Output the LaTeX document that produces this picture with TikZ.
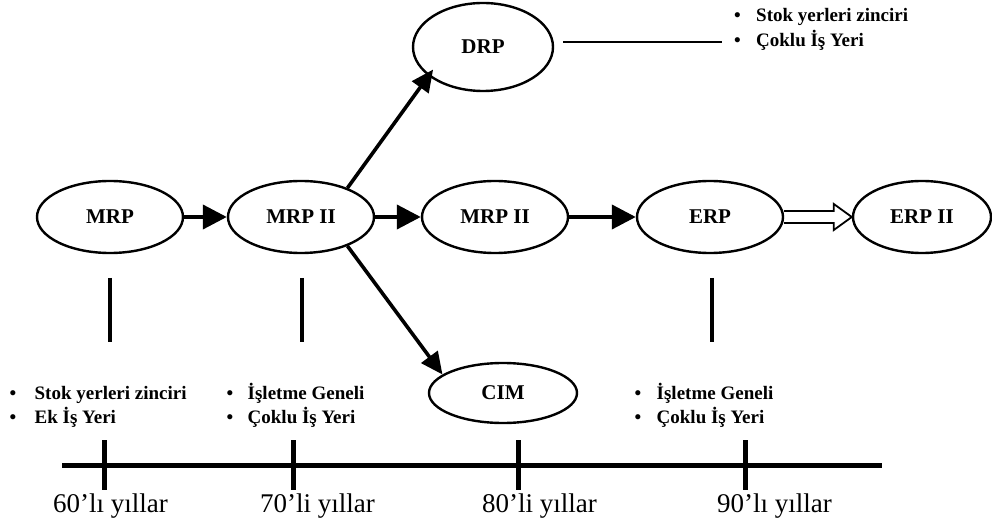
\documentclass[tikz,border=0pt]{standalone}
\usepackage{fontspec}
\setmainfont{Liberation Serif}
\usetikzlibrary{arrows.meta,calc,shapes.geometric}
% bullet followed by a fixed gap before the item text
\newcommand{\itembul}[1]{\makebox[#1][l]{\textbullet}}

\begin{document}
\begin{tikzpicture}[x=1pt,y=-1pt,
  stage/.style={draw, ellipse, line width=2.4pt, inner sep=0pt,
    minimum width=146pt, minimum height=72pt,
    font=\fontsize{21}{25}\selectfont\bfseries},
  flow/.style={line width=4pt, -{Triangle[length=24pt,width=24pt]}},
  branch/.style={line width=3.6pt, -{Triangle[length=22pt,width=20pt]}},
  stem/.style={line width=4pt},
  item/.style={anchor=base west, inner sep=0pt,
    font=\fontsize{19}{22}\selectfont\bfseries},
  year/.style={anchor=base west, inner sep=0pt,
    font=\fontsize{27}{31}\selectfont},
  axis/.style={line width=5pt},
]
\useasboundingbox (0,0) rectangle (992,526);
\fill[white] (0,0) rectangle (992,526);

% stages
\node[stage] (mrp)   at (110,217) {MRP};
\node[stage] (mrp2a) at (301,217) {MRP II};
\node[stage] (mrp2b) at (495,217) {MRP II};
\node[stage] (erp)   at (710,217) {ERP};
\node[stage, minimum width=138pt] (erp2) at (922,217) {ERP II};
\node[stage, minimum width=140pt, minimum height=88pt] (drp) at (483,47) {DRP};
\node[stage, minimum width=148pt, minimum height=60pt] (cim) at (503,393) {CIM};

% main flow
\draw[flow] (mrp) -- (mrp2a);
\draw[flow] (mrp2a) -- (mrp2b);
\draw[flow] (mrp2b) -- (erp);
\draw[branch, shorten >=-8pt] (mrp2a.32) -- (drp.208);
\draw[branch] (mrp2a.-32) -- (cim.163);

% hollow arrow ERP -> ERP II
\coordinate (ha) at (erp.east);
\coordinate (hb) at (erp2.west);
\draw[line width=1.8pt, line join=miter]
  ($(ha)+(0,-6)$) -- ($(hb)+(-18,-6)$) -- ($(hb)+(-18,-13)$) -- (hb)
  -- ($(hb)+(-18,13)$) -- ($(hb)+(-18,6)$) -- ($(ha)+(0,6)$);

% DRP note line
\coordinate (dl) at (563,42);
\coordinate (dr) at (722,42);
\draw[line width=2pt] (dl) -- (dr);
\node[item] (t1) at (734,22) {\itembul{22pt}Stok yerleri zinciri};
\node[item] (t2) at (734,47) {\itembul{22pt}Çoklu İş Yeri};

% stems below stages
\coordinate (s1a) at (110,278); \coordinate (s1b) at (110,342);
\coordinate (s2a) at (302,278); \coordinate (s2b) at (302,342);
\coordinate (s3a) at (712,278); \coordinate (s3b) at (712,342);
\draw[stem] (s1a) -- (s1b);
\draw[stem] (s2a) -- (s2b);
\draw[stem] (s3a) -- (s3b);

% bullet lists
\node[item] (a1) at (9.5,399) {\itembul{25pt}Stok yerleri zinciri};
\node[item] (a2) at (9.5,423) {\itembul{25pt}Ek İş Yeri};
\node[item] (b1) at (226.5,399) {\itembul{21pt}İşletme Geneli};
\node[item] (b2) at (226.5,423) {\itembul{21pt}Çoklu İş Yeri};
\node[item] (c1) at (634.5,399) {\itembul{22pt}İşletme Geneli};
\node[item] (c2) at (634.5,423) {\itembul{22pt}Çoklu İş Yeri};

% time axis
\coordinate (axl) at (62,465);
\coordinate (axr) at (882,465);
\draw[axis] (axl) -- (axr);
\foreach \x/\n in {104/k1, 293/k2, 518/k3, 745/k4} {
  \coordinate (\n a) at (\x,440);
  \coordinate (\n b) at (\x,490);
  \draw[axis] (\n a) -- (\n b);
}

% decades
\node[year] (y60) at (53,512)  {60’lı yıllar};
\node[year] (y70) at (260,512) {70’li yıllar};
\node[year] (y80) at (482,512) {80’li yıllar};
\node[year] (y90) at (717,512) {90’lı yıllar};
\end{tikzpicture}
\end{document}
